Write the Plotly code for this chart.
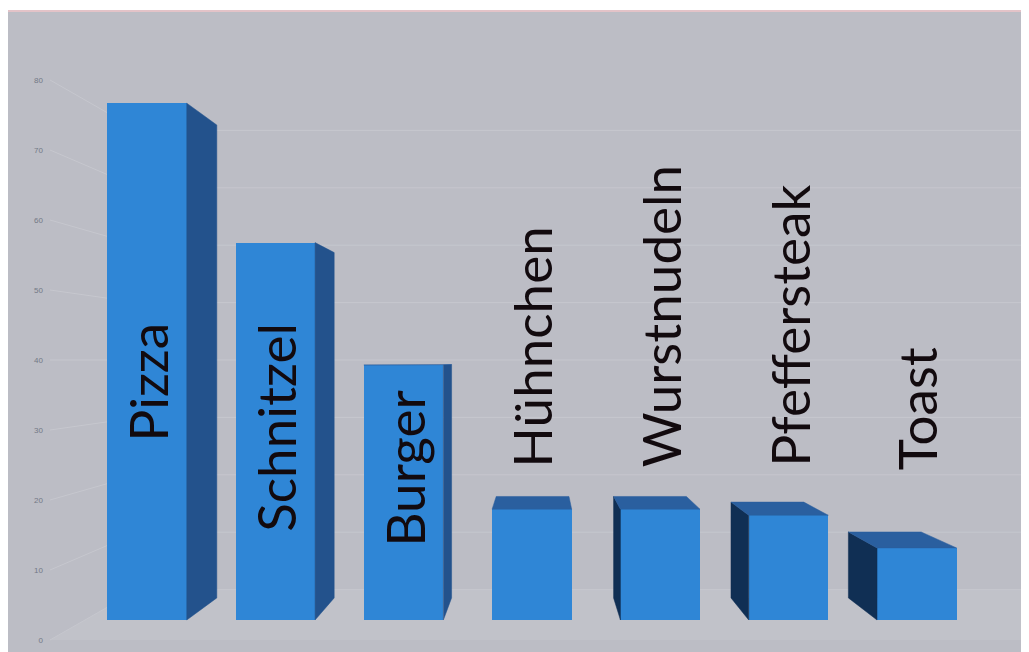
import plotly.graph_objects as go

# ---------------- data ----------------
categories = ["Pizza", "Schnitzel", "Burger", "Hühnchen", "Wurstnudeln", "Pfeffersteak", "Toast"]
values = [76, 55.5, 37.5, 16.3, 16.3, 15.4, 10.6]
tick_values = [0, 10, 20, 30, 40, 50, 60, 70, 80]
tick_labels = [str(t) for t in tick_values]

# ---------------- geometry / style ----------------
OFF = 8                          # page (body) margin of the browser
W, H = 1029 - OFF, 652 - OFF
ML, MR, MT, MB = 40, 0, 4, 6
PW, PH = W - ML - MR, H - MT - MB
BOT = H - MB                     # figure px of plot-area bottom


def fpx(ref_px):
    return ref_px - OFF


XPX = 128.3                      # px per category step
x0 = -(fpx(147) - ML) / XPX
x1 = x0 + PW / XPX
# axis carrying the tick labels (front-left plane): 7 px / unit
ya0 = -(BOT - fpx(640)) / 7.0
ya1 = ya0 + PH / 7.0
# axis carrying the bar front faces: 6.8 px / unit
yb0 = -(BOT - fpx(620)) / 6.8
yb1 = yb0 + PH / 6.8

BAR_W = 0.62
XV = (540 - 147) / XPX           # vanishing point (category units)
YV_BAR = (620 - 360) / 6.8       # vanishing point in bar-axis units
YV_LAB = (640 - 360) / 7.0       # vanishing point in label-axis units
K_BAR = 0.085                    # bar depth
K_WALL = 0.18                    # back wall depth

BG = "#bcbdc5"
FLOOR = "#c1c2c9"
GRID = "#c6c7ce"
FRONT = "#2f86d6"
RIGHT_SIDE = "#23528c"
LEFT_SIDE = "#102f54"
TOP = "#2a5f9f"


def proj(x, y, k, yv):
    return x + k * (XV - x), y + k * (yv - y)


fig = go.Figure()

# ---- floor (label axis) ----
xlf = x0 + 2 / XPX
xlb, wall0 = proj(xlf, 0, K_WALL, YV_LAB)
fig.add_trace(go.Scatter(
    x=[xlf, x1, x1, xlb, xlf], y=[0, 0, wall0, wall0, 0],
    fill="toself", fillcolor=FLOOR, mode="lines", line=dict(width=0, color=FLOOR),
    hoverinfo="skip", showlegend=False, yaxis="y"))

# ---- gridlines on left wall + back wall ----
gx, gy = [], []
for v in tick_values:
    bx, by = proj(xlf, v, K_WALL, YV_LAB)
    gx += [xlf, bx, x1, None]
    gy += [v, by, by, None]
fig.add_trace(go.Scatter(x=gx, y=gy, mode="lines", line=dict(color=GRID, width=1),
                         hoverinfo="skip", showlegend=False, yaxis="y"))

# ---- bar front faces ----
fig.add_trace(go.Bar(x=list(range(len(categories))), y=values, width=BAR_W,
                     marker=dict(color=FRONT, line=dict(width=0)),
                     hoverinfo="skip", showlegend=False, yaxis="y2"))

# ---- side and top faces ----
for i, v in enumerate(values):
    L, R = i - BAR_W / 2, i + BAR_W / 2
    polys = []
    if R < XV:
        p1, p2 = proj(R, v, K_BAR, YV_BAR), proj(R, 0, K_BAR, YV_BAR)
        polys.append(([R, R, p1[0], p2[0], R], [0, v, p1[1], p2[1], 0], RIGHT_SIDE))
    if L > XV:
        p1, p2 = proj(L, v, K_BAR, YV_BAR), proj(L, 0, K_BAR, YV_BAR)
        polys.append(([L, L, p1[0], p2[0], L], [0, v, p1[1], p2[1], 0], LEFT_SIDE))
    if v < YV_BAR:
        p1, p2 = proj(R, v, K_BAR, YV_BAR), proj(L, v, K_BAR, YV_BAR)
        polys.append(([L, R, p1[0], p2[0], L], [v, v, p1[1], p2[1], v], TOP))
    for px_, py_, col in polys:
        fig.add_trace(go.Scatter(x=px_, y=py_, fill="toself", fillcolor=col, mode="lines",
                                 line=dict(width=0.5, color=col), hoverinfo="skip",
                                 showlegend=False, yaxis="y2"))

# ---- category labels (rotated text) ----
label_bottom_ref_px = [444, 534, 549, 469, 469, 469, 472]
for i, name in enumerate(categories):
    fig.add_annotation(x=i, y=(620 - label_bottom_ref_px[i]) / 6.8, xref="x", yref="y2",
                       text=name, textangle=-90, showarrow=False,
                       xanchor="center", yanchor="bottom",
                       font=dict(family="Lato", size=53, color="#120a0e"))

# ---- white scan margin + pinkish edge at the top ----
fig.add_shape(type="rect", xref="paper", yref="paper",
              x0=-0.1, x1=1.1, y0=1 + 1 / PH, y1=1 + (MT + 2) / PH,
              fillcolor="white", line=dict(width=0), layer="above")
fig.add_shape(type="line", xref="paper", yref="paper",
              x0=-0.05, x1=1.01, y0=1 + 1 / PH, y1=1 + 1 / PH,
              line=dict(color="#e3c3c8", width=2), layer="above")

fig.update_layout(
    width=W, height=H,
    margin=dict(l=ML, r=MR, t=MT, b=MB),
    paper_bgcolor=BG, plot_bgcolor=BG,
    showlegend=False,
    xaxis=dict(range=[x0, x1], visible=False, fixedrange=True),
    yaxis=dict(range=[ya0, ya1], tickvals=tick_values, ticktext=tick_labels,
               showgrid=False, zeroline=False, showline=False, ticks="",
               tickfont=dict(family="Liberation Sans", size=8, color="#737985"),
               ticklabelstandoff=4, fixedrange=True),
    yaxis2=dict(range=[yb0, yb1], overlaying="y", visible=False, fixedrange=True),
    bargap=0,
)

fig.write_html("out.html", config={"displayModeBar": False})
